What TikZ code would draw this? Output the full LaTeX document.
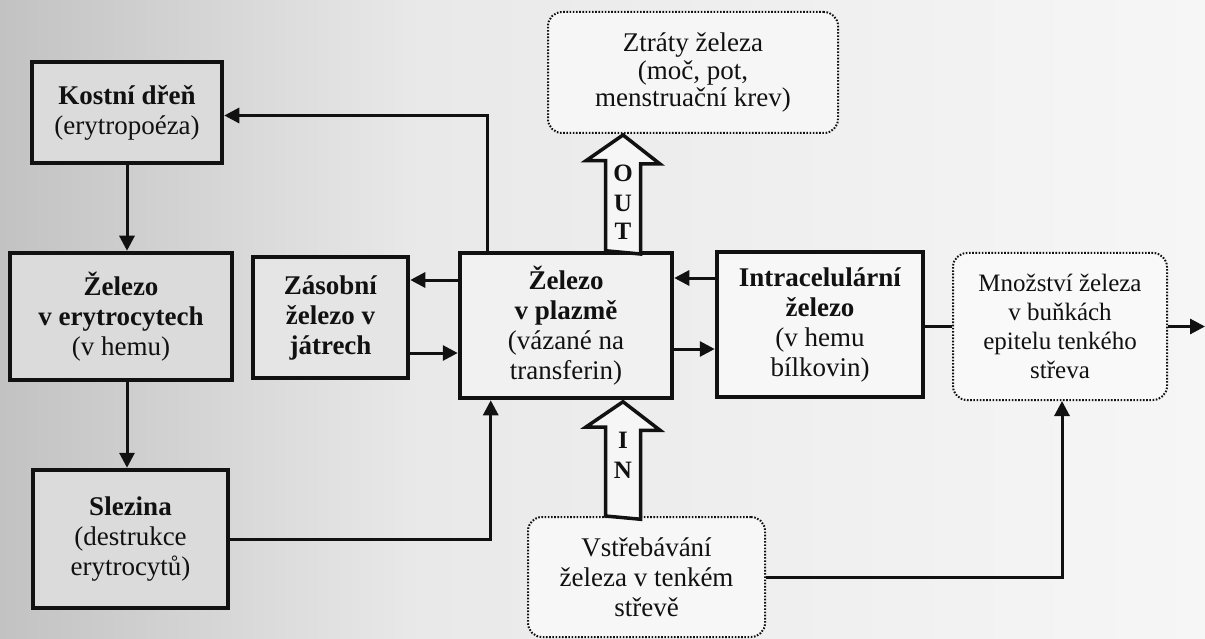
\documentclass[tikz,border=0pt]{standalone}
\usepackage{fontspec}
\setmainfont{Liberation Serif}
\usetikzlibrary{arrows.meta,calc}

\definecolor{paperdark}{HTML}{C2C2C2}
\definecolor{papermid}{HTML}{E9E9E9}
\definecolor{paperlight}{HTML}{F6F6F6}
\definecolor{ink}{HTML}{111111}

\tikzset{
  txt/.style={font=\fontsize{27}{30}\selectfont, align=center, text=ink},
  solidbox/.style={txt, draw=ink, line width=4.5pt, inner sep=0pt, rectangle},
  dotbox/.style={txt, draw=ink, line width=2pt, dash pattern=on 1.6pt off 1.6pt,
                 rounded corners=14pt, inner sep=0pt, rectangle},
  arr/.style={draw=ink, line width=3pt, -{Triangle[length=15pt,width=15pt]}},
  plain/.style={draw=ink, line width=3pt},
  blk/.style={draw=ink, line width=3.5pt, fill=paperlight, line join=miter},
  blkletter/.style={font=\fontsize{25}{25}\selectfont\bfseries, text=ink, inner sep=0pt}
}

\begin{document}
\begin{tikzpicture}[x=1pt,y=-1pt]
  % paper
  \useasboundingbox (0,0) rectangle (1205,639);
  \shade[left color=paperdark, right color=papermid] (0,0) rectangle (420,639);
  \shade[left color=papermid, right color=paperlight] (420,0) rectangle (1205,639);

  % blood cell cycle (left column)
  \node[solidbox, fill=gray!28!white, minimum width=190pt, minimum height=101pt] (kd)
    at (127,112.5) {\textbf{Kostní dřeň}\\(erytropoéza)};
  \node[solidbox, fill=gray!28!white, minimum width=222pt, minimum height=127pt] (ery)
    at (121,316.5) {\textbf{Železo}\\\textbf{v erytrocytech}\\(v hemu)};
  \node[solidbox, fill=gray!28!white, minimum width=195pt, minimum height=138pt] (sl)
    at (130.5,539) {\textbf{Slezina}\\(destrukce\\erytrocytů)};

  % stores and plasma
  \node[solidbox, fill=gray!20!white, minimum width=155pt, minimum height=121pt] (zas)
    at (330.5,317.5) {\textbf{Zásobní}\\\textbf{železo v}\\\textbf{játrech}};
  \node[solidbox, fill=gray!11!white, minimum width=212pt, minimum height=145pt] (pl)
    at (566,325.5) {\textbf{Železo}\\\textbf{v plazmě}\\(vázané na\\transferin)};
  \node[solidbox, fill=gray!6!white, minimum width=206pt, minimum height=145pt] (ic)
    at (820,324.5) {\textbf{Intracelulární}\\\textbf{železo}\\(v hemu\\bílkovin)};

  % dotted boxes
  \node[dotbox, fill=gray!5!white, minimum width=214pt, minimum height=147pt,
        font=\fontsize{25}{29}\selectfont] (mn)
    at (1060,326.5) {Množství železa\\v buňkách\\epitelu tenkého\\střeva};
  \node[dotbox, fill=gray!6!white, minimum width=237pt, minimum height=120pt] (vs)
    at (646.5,577) {Vstřebávání\\železa v tenkém\\střevě};
  \node[dotbox, fill=gray!7!white, minimum width=290pt, minimum height=121pt,
        font=\fontsize{27}{27.5}\selectfont] (zt)
    at (693,72.5) {Ztráty železa\\(moč, pot,\\menstruační krev)};

  % connectors
  \draw[arr] (kd.south) -- (kd.south |- ery.north);
  \draw[arr] (ery.south -| kd.south) -- (kd.south |- sl.north);
  \draw[arr] (sl.east) -| ($(pl.south west)+(33,0)$);
  \draw[arr] ($(pl.north west)+(30,0)$) |- ([yshift=-3pt]kd.east);
  \draw[arr] ([yshift=45.5pt]pl.west) -- ([yshift=45.5pt]pl.west -| zas.east);
  \draw[arr] ([yshift=-27.5pt]pl.west -| zas.east) -- ([yshift=-27.5pt]pl.west);
  \draw[arr] ([yshift=47.5pt]pl.east -| ic.west) -- ([yshift=47.5pt]pl.east);
  \draw[arr] ([yshift=-23.5pt]pl.east) -- ([yshift=-23.5pt]pl.east -| ic.west);
  \draw[plain] (ic.east |- mn.west) -- (mn.west);
  \coordinate (exit) at (1205,326.5);
  \draw[arr] (mn.east) -- (exit);
  \draw[arr] (vs.east) -| ($(mn.south)+(2,0)$);

  % IN / OUT block arrows
  \coordinate (bx) at (623,0);
  \coordinate (inTip) at (pl.south -| bx);
  \coordinate (inFoot) at (vs.north -| bx);
  \coordinate (outTip) at (zt.south -| bx);
  \coordinate (outFoot) at (pl.north -| bx);

  \draw[blk] (inFoot) ++(-17.5,0) -- ++(0,-89) -- ++(-19.5,0) -- ($(inTip)+(0,1.5)$)
    -- ++(37,28.5) -- ++(-19.5,0) -- ++(0,89) -- cycle;
  \node[blkletter] at ($(inTip)+(0,40)$) {I};
  \node[blkletter] at ($(inTip)+(0,70)$) {N};

  \draw[blk] (outFoot) ++(-17.5,0) -- ++(0,-90) -- ++(-19.5,0) -- ($(outTip)+(0,1)$)
    -- ++(37,29) -- ++(-19.5,0) -- ++(0,90) -- cycle;
  \node[blkletter] at ($(outTip)+(0,39)$) {O};
  \node[blkletter] at ($(outTip)+(0,69)$) {U};
  \node[blkletter] at ($(outTip)+(0,97)$) {T};
\end{tikzpicture}
\end{document}
